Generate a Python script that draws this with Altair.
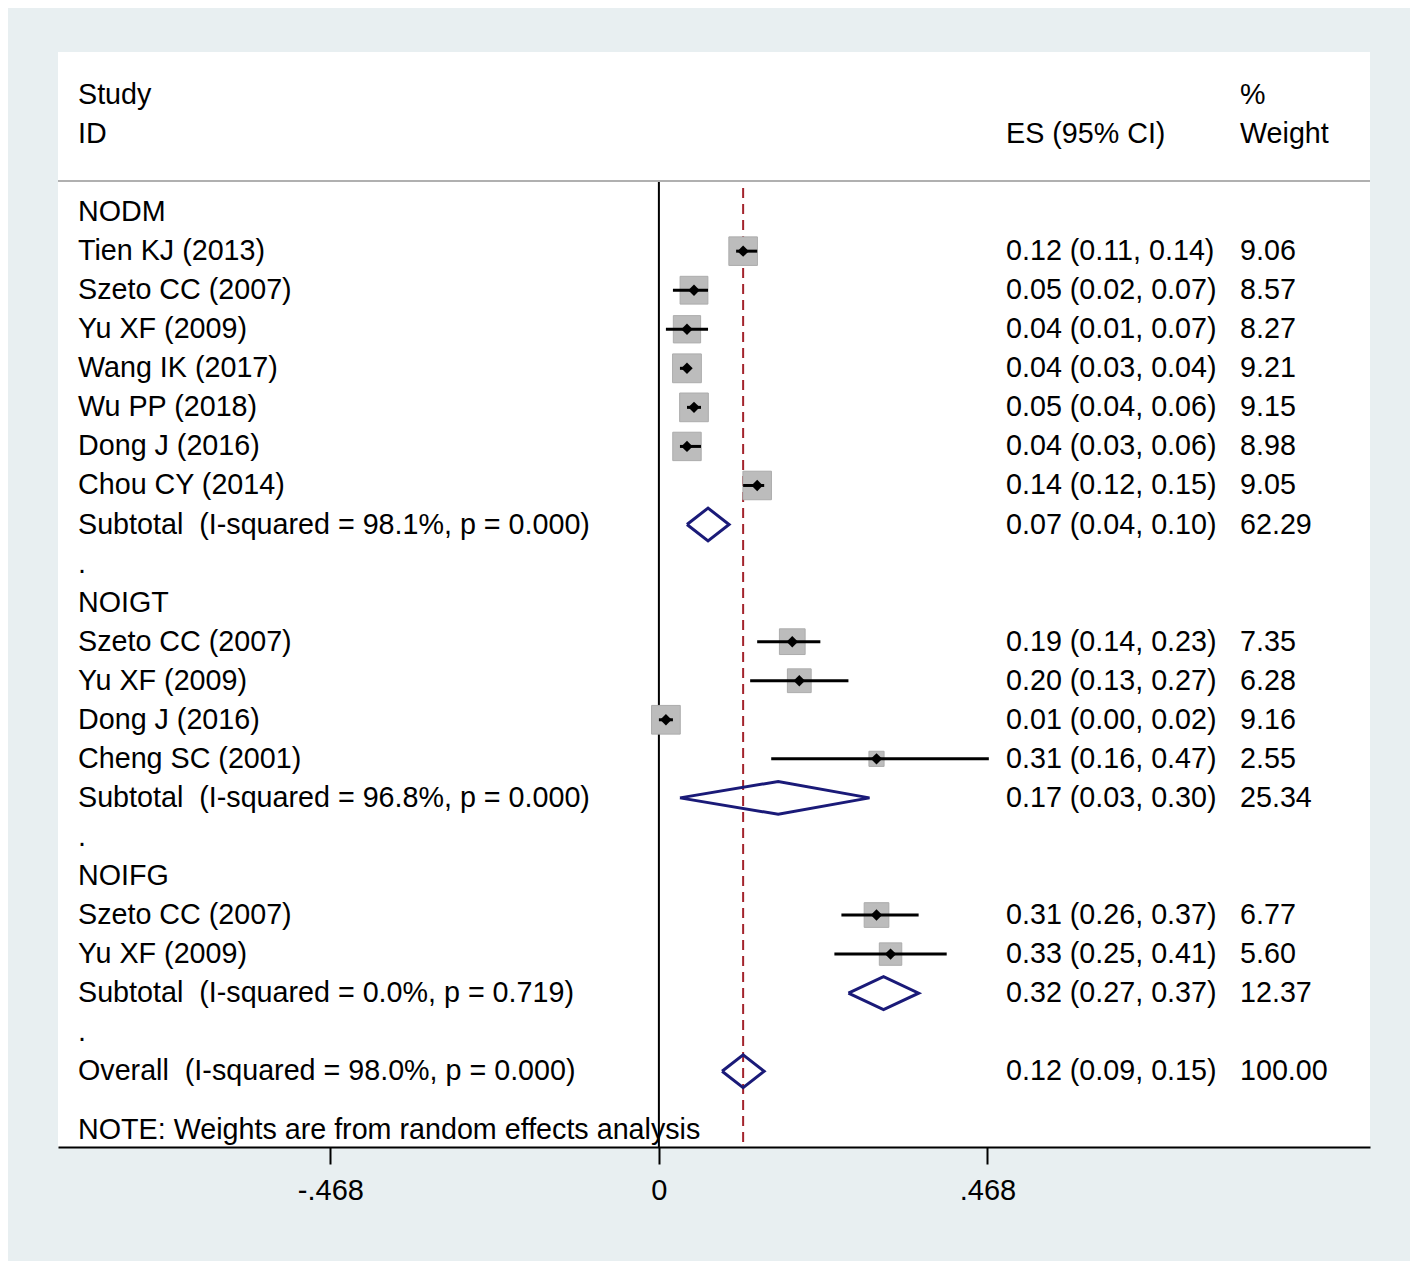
import altair as alt
import pandas as pd

# ---------------- data ----------------
groups = ["NODM", "NOIGT", "NOIFG"]
group_sizes = [7, 4, 2]
studies = ["Tien KJ (2013)", "Szeto CC (2007)", "Yu XF (2009)", "Wang IK (2017)",
           "Wu PP (2018)", "Dong J (2016)", "Chou CY (2014)",
           "Szeto CC (2007)", "Yu XF (2009)", "Dong J (2016)", "Cheng SC (2001)",
           "Szeto CC (2007)", "Yu XF (2009)"]
es = [0.12, 0.05, 0.04, 0.04, 0.05, 0.04, 0.14, 0.19, 0.20, 0.01, 0.31, 0.31, 0.33]
lci = [0.11, 0.02, 0.01, 0.03, 0.04, 0.03, 0.12, 0.14, 0.13, 0.00, 0.16, 0.26, 0.25]
uci = [0.14, 0.07, 0.07, 0.04, 0.06, 0.06, 0.15, 0.23, 0.27, 0.02, 0.47, 0.37, 0.41]
weights = [9.06, 8.57, 8.27, 9.21, 9.15, 8.98, 9.05, 7.35, 6.28, 9.16, 2.55, 6.77, 5.60]

sub_labels = ["Subtotal\u00a0 (I-squared = 98.1%, p = 0.000)",
              "Subtotal\u00a0 (I-squared = 96.8%, p = 0.000)",
              "Subtotal\u00a0 (I-squared = 0.0%, p = 0.719)"]
sub_es = [0.07, 0.17, 0.32]
sub_lci = [0.04, 0.03, 0.27]
sub_uci = [0.10, 0.30, 0.37]
sub_w = [62.29, 25.34, 12.37]

overall_label = "Overall\u00a0 (I-squared = 98.0%, p = 0.000)"
overall_es, overall_lci, overall_uci, overall_w = 0.12, 0.09, 0.15, 100.00
note = "NOTE: Weights are from random effects analysis"

tick_values = [-0.468, 0, 0.468]
tick_labels = ["-.468", "0", ".468"]

# ---------------- build tables ----------------
text_rows = []
study_rows = []
diamond_rows = []

def es_txt(e, l, u):
    return f"{e:.2f} ({l:.2f}, {u:.2f})"

def add_diamond(key, e, l, u, r, h=0.42):
    pts = [(l, r), (e, r - h), (u, r), (e, r + h), (l, r)]
    for i, (xx, yy) in enumerate(pts):
        diamond_rows.append({"key": key, "x": xx, "y": yy, "o": i})

row = 0
k = 0
for g, (name, n) in enumerate(zip(groups, group_sizes)):
    text_rows.append({"label": name, "es": "", "w": "", "row": row})
    row += 1
    for _ in range(n):
        text_rows.append({"label": studies[k], "es": es_txt(es[k], lci[k], uci[k]),
                          "w": f"{weights[k]:.2f}", "row": row})
        study_rows.append({"es": es[k], "lci": lci[k], "uci": uci[k], "w": weights[k], "row": row})
        k += 1
        row += 1
    text_rows.append({"label": sub_labels[g], "es": es_txt(sub_es[g], sub_lci[g], sub_uci[g]),
                      "w": f"{sub_w[g]:.2f}", "row": row})
    add_diamond(f"s{g}", sub_es[g], sub_lci[g], sub_uci[g], row)
    row += 1
    text_rows.append({"label": ".", "es": "", "w": "", "row": row})
    row += 1
text_rows.append({"label": overall_label, "es": es_txt(overall_es, overall_lci, overall_uci),
                  "w": f"{overall_w:.2f}", "row": row})
add_diamond("ov", overall_es, overall_lci, overall_uci, row)
text_rows.append({"label": note, "es": "", "w": "", "row": row + 1.5})

header = pd.DataFrame({"t": ["Study", "ID", "ES (95% CI)", "%", "Weight"],
                       "row": [-3, -2, -2, -3, -2],
                       "col": ["a", "a", "b", "c", "c"]})

tdf = pd.DataFrame(text_rows)
sdf = pd.DataFrame(study_rows)
ddf = pd.DataFrame(diamond_rows)

# ---------------- chart ----------------
W, H = 1312, 1095
FONT = "Liberation Sans"
FS = 28.7

xs = alt.Scale(domain=[-0.856, 1.013], nice=False, zero=False)
ys = alt.Scale(domain=[-4.1, 23.94], nice=False, zero=False, reverse=True)

label_expr = "datum.value == 0 ? '0' : (datum.value < 0 ? '-.468' : '.468')"

base_axis = alt.Axis(values=tick_values, labelExpr=label_expr, title=None, grid=False,
                     domainColor="black", domainWidth=2, tickColor="black", tickWidth=2,
                     tickSize=17, labelFont=FONT, labelFontSize=29, labelColor="black",
                     labelPadding=12)

zero_line = alt.Chart(pd.DataFrame({"x": [0]})).mark_rule(color="black", strokeWidth=2).encode(
    x=alt.X("x:Q", scale=xs, axis=base_axis),
    y=alt.value(130), y2=alt.value(H))

dash_line = alt.Chart(pd.DataFrame({"x": [overall_es]})).mark_rule(
    color="#a3232c", strokeWidth=2, strokeDash=[10, 6]).encode(
    x=alt.X("x:Q", scale=xs), y=alt.value(136), y2=alt.value(H))

sep = alt.Chart(pd.DataFrame({"a": [0]})).mark_rule(color="#b0b0b0", strokeWidth=2).encode(
    x=alt.value(0), x2=alt.value(W), y=alt.value(129))

boxes = alt.Chart(sdf).mark_square(color="#bcbcbc", opacity=1, filled=True,
                                   stroke="#acacac", strokeWidth=1).encode(
    x=alt.X("es:Q", scale=xs),
    y=alt.Y("row:Q", scale=ys, axis=None),
    size=alt.Size("w:Q", scale=alt.Scale(domain=[0, 10], range=[0, 900], zero=True), legend=None))

ci = alt.Chart(sdf).mark_rule(color="black", strokeWidth=3).encode(
    x=alt.X("lci:Q", scale=xs), x2="uci:Q", y=alt.Y("row:Q", scale=ys))

dots = alt.Chart(sdf).mark_point(shape="diamond", filled=True, color="black", size=130, opacity=1).encode(
    x=alt.X("es:Q", scale=xs), y=alt.Y("row:Q", scale=ys))

diamonds = alt.Chart(ddf).mark_line(color="#1a1a78", strokeWidth=3).encode(
    x=alt.X("x:Q", scale=xs), y=alt.Y("y:Q", scale=ys),
    detail="key:N", order="o:Q")

txt_kw = dict(font=FONT, fontSize=FS, color="black", align="left", baseline="middle")

lab = alt.Chart(tdf).mark_text(**txt_kw).encode(
    x=alt.value(20), y=alt.Y("row:Q", scale=ys), text="label:N")
est = alt.Chart(tdf).mark_text(**txt_kw).encode(
    x=alt.value(948), y=alt.Y("row:Q", scale=ys), text="es:N")
wt = alt.Chart(tdf).mark_text(**txt_kw).encode(
    x=alt.value(1182), y=alt.Y("row:Q", scale=ys), text="w:N")

hdr_a = alt.Chart(header[header.col == "a"]).mark_text(**txt_kw).encode(
    x=alt.value(20), y=alt.Y("row:Q", scale=ys), text="t:N")
hdr_b = alt.Chart(header[header.col == "b"]).mark_text(**txt_kw).encode(
    x=alt.value(948), y=alt.Y("row:Q", scale=ys), text="t:N")
hdr_c = alt.Chart(header[header.col == "c"]).mark_text(**txt_kw).encode(
    x=alt.value(1182), y=alt.Y("row:Q", scale=ys), text="t:N")

chart = alt.layer(
    zero_line, dash_line, sep, boxes, ci, dots, diamonds, lab, est, wt, hdr_a, hdr_b, hdr_c
).properties(
    width=W, height=H,
    padding={"left": 50, "top": 44, "right": 40, "bottom": 114},
    autosize=alt.AutoSizeParams(type="none"),
    background="#e8eff1",
).configure_view(fill="white", stroke=None)

chart.save("out.html", embed_options={"renderer": "svg", "actions": False})
